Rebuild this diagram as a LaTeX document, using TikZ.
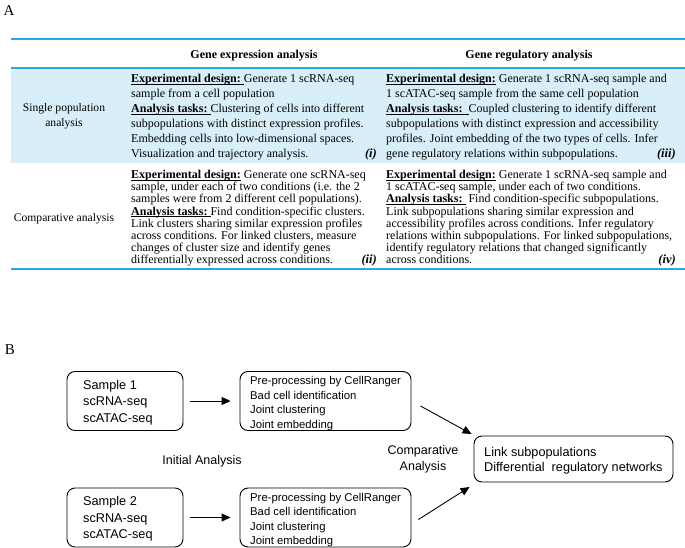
\documentclass[tikz,border=0pt]{standalone}
\usepackage{fontspec}
\setmainfont{Liberation Serif}
\newfontfamily\arialf{Liberation Sans}
\usetikzlibrary{arrows.meta}
\definecolor{tblue}{RGB}{38,170,228}
\definecolor{tfill}{RGB}{216,239,250}
\newcommand\myul[1]{\setbox0\hbox{#1}\rlap{\rule[-1.7pt]{\wd0}{0.6pt}}\box0}
\begin{document}
\begin{tikzpicture}[x=1pt,y=-1pt,
  tl/.style={anchor=base west, inner sep=0pt, font=\fontsize{12}{13}\selectfont},
  hd/.style={anchor=base, inner sep=0pt, font=\fontsize{12}{13}\selectfont\bfseries},
  rl/.style={anchor=base, inner sep=0pt, font=\fontsize{11.6}{13}\selectfont},
  tag/.style={anchor=base east, inner sep=0pt, font=\fontsize{12.5}{14}\selectfont\bfseries\itshape},
  pl/.style={anchor=center, inner sep=0pt, font=\fontsize{15}{16}\selectfont},
  bx/.style={draw, rounded corners=8pt, line width=0.9pt, inner sep=0pt},
  sfa/.style={anchor=base west, inner sep=0pt, font=\arialf\fontsize{12.7}{15}\selectfont},
  sfb/.style={anchor=base west, inner sep=0pt, font=\arialf\fontsize{11.3}{13}\selectfont},
  sfc/.style={anchor=base, inner sep=0pt, font=\arialf\fontsize{12.5}{15}\selectfont},
  arr/.style={-{Triangle[length=9pt,width=8pt]}, line width=0.9pt}]
\useasboundingbox (0,0) rectangle (685,548);
% ---------- Part A ----------
\node[pl] (labA) at (9,11) {A};
\fill[tfill] (11,68) rectangle (685,163);
\draw[tblue, line width=2pt] (11,39.5) -- (685,39.5);
\draw[tblue, line width=2pt] (11,68) -- (685,68);
\draw[tblue, line width=2pt] (11,268.5) -- (685,268.5);
\node[hd] (h1) at (254,58.5) {Gene expression analysis};
\node[hd] (h2) at (529,58.5) {Gene regulatory analysis};
\node[rl] (sp1) at (64,111.5) {Single population};
\node[rl] (sp2) at (64,126.5) {analysis};
\node[rl] (ca) at (64,221.5) {Comparative analysis};
\foreach \t [count=\i from 0] in {
  {\myul{\textbf{Experimental design:}\ }Generate 1 scRNA-seq},
  {sample from a cell population},
  {\myul{\textbf{Analysis tasks:}\ }Clustering of cells into different},
  {subpopulations with distinct expression profiles.},
  {Embedding cells into low-dimensional spaces.},
  {Visualization and trajectory analysis.}}
  \node[tl] (aa\i) at (131,82.5+15*\i) {\t};
\node[tag] (ti) at (377,157.5) {(i)};
\foreach \t [count=\i from 0] in {
  {\myul{\textbf{Experimental design:}}\ Generate 1 scRNA-seq sample and},
  {1 scATAC-seq sample from the same cell population},
  {\myul{\textbf{Analysis tasks:}\ \ }Coupled clustering to identify different},
  {subpopulations with distinct expression and accessibility},
  {profiles. Joint embedding of the two types of cells. Infer},
  {gene regulatory relations within subpopulations.}}
  \node[tl] (ab\i) at (386,82.5+15*\i) {\t};
\node[tag] (tiii) at (676,157.5) {(iii)};
\foreach \t [count=\i from 0] in {
  {\myul{\textbf{Experimental design:}}\ Generate one scRNA-seq},
  {sample, under each of two conditions (i.e. the 2},
  {samples were from 2 different cell populations).},
  {\myul{\textbf{Analysis tasks:}\ }Find condition-specific clusters.},
  {Link clusters sharing similar expression profiles},
  {across conditions. For linked clusters, measure},
  {changes of cluster size and identify genes},
  {differentially expressed across conditions.}}
  \node[tl] (ba\i) at (131,178.5+12.2*\i) {\t};
\node[tag] (tii) at (377,263.9) {(ii)};
\foreach \t [count=\i from 0] in {
  {\myul{\textbf{Experimental design:}}\ Generate 1 scRNA-seq sample and},
  {1 scATAC-seq sample, under each of two conditions.},
  {\myul{\textbf{Analysis tasks:}\ }\ Find condition-specific subpopulations.},
  {Link subpopulations sharing similar expression and},
  {accessibility profiles across conditions. Infer regulatory},
  {relations within subpopulations. For linked subpopulations,},
  {identify regulatory relations that changed significantly},
  {across conditions.}}
  \node[tl] (bb\i) at (386,178.5+12.2*\i) {\t};
\node[tag] (tiv) at (676,263.9) {(iv)};
% ---------- Part B ----------
\node[pl] (labB) at (10,350) {B};
\node[bx, minimum width=116pt, minimum height=59pt] (s1) at (125,401) {};
\node[sfa] (s1a) at (83,389) {Sample 1};
\node[sfa] (s1b) at (83,405.5) {scRNA-seq};
\node[sfa] (s1c) at (83,422) {scATAC-seq};
\node[bx, minimum width=171pt, minimum height=59pt] (pre1) at (325.5,401) {};
\node[sfb] (p1a) at (250,384.5) {Pre-processing by CellRanger};
\node[sfb] (p1b) at (250,399) {Bad cell identification};
\node[sfb] (p1c) at (250,413.5) {Joint clustering};
\node[sfb] (p1d) at (250,428) {Joint embedding};
\node[sfc] (ia) at (202,464.5) {Initial Analysis};
\node[bx, minimum width=116pt, minimum height=59pt] (s2) at (125,517.5) {};
\node[sfa] (s2a) at (83,505.5) {Sample 2};
\node[sfa] (s2b) at (83,522) {scRNA-seq};
\node[sfa] (s2c) at (83,538.5) {scATAC-seq};
\node[bx, minimum width=171pt, minimum height=59pt] (pre2) at (325.5,517.5) {};
\node[sfb] (p2a) at (250,501) {Pre-processing by CellRanger};
\node[sfb] (p2b) at (250,515.5) {Bad cell identification};
\node[sfb] (p2c) at (250,530) {Joint clustering};
\node[sfb] (p2d) at (250,544.5) {Joint embedding};
\node[sfc] (cpa) at (423,454) {Comparative};
\node[sfc] (cpb) at (423,470.5) {Analysis};
\node[bx, minimum width=199pt, minimum height=46pt] (link) at (573.5,459) {};
\node[sfa] (la) at (484,456) {Link subpopulations};
\node[sfa] (lb) at (484,471.5) {Differential\ \ regulatory networks};
\draw[arr, shorten <=7pt, shorten >=9pt] (s1) -- (pre1);
\draw[arr, shorten <=7pt, shorten >=9pt] (s2) -- (pre2);
\draw[arr] ([xshift=9pt,yshift=-5pt]pre1.east) -- ([xshift=-2pt,yshift=25pt]link.west);
\draw[arr] ([xshift=7pt,yshift=-2pt]pre2.east) -- ([xshift=-4pt,yshift=-28pt]link.west);
\end{tikzpicture}
\end{document}
